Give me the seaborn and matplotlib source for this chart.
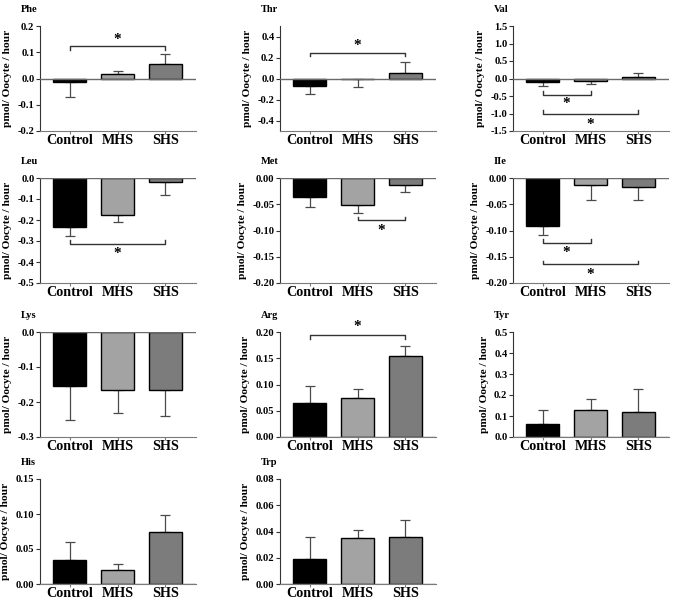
import matplotlib.pyplot as plt
import pandas as pd
import seaborn as sns

groups = ["Control", "MHS", "SHS"]
colors = ["#000000", "#a3a3a3", "#7c7c7c"]

names = ["Phe", "Thr", "Val", "Leu", "Met", "Ile", "Lys", "Arg", "Tyr", "His", "Trp"]

# mean uptake per group (Control, MHS, SHS) and SEM
means = {
    "Phe": [-0.015, 0.016, 0.055],
    "Thr": [-0.07, -0.005, 0.05],
    "Val": [-0.10, -0.085, 0.03],
    "Leu": [-0.235, -0.175, -0.018],
    "Met": [-0.037, -0.052, -0.013],
    "Ile": [-0.092, -0.013, -0.018],
    "Lys": [-0.155, -0.165, -0.165],
    "Arg": [0.065, 0.074, 0.155],
    "Tyr": [0.062, 0.127, 0.12],
    "His": [0.035, 0.02, 0.075],
    "Trp": [0.019, 0.035, 0.036],
}
sems = {
    "Phe": [0.055, 0.011, 0.04],
    "Thr": [0.075, 0.075, 0.11],
    "Val": [0.12, 0.085, 0.115],
    "Leu": [0.04, 0.035, 0.062],
    "Met": [0.018, 0.015, 0.014],
    "Ile": [0.016, 0.028, 0.023],
    "Lys": [0.095, 0.065, 0.075],
    "Arg": [0.032, 0.018, 0.019],
    "Tyr": [0.065, 0.053, 0.108],
    "His": [0.025, 0.009, 0.023],
    "Trp": [0.017, 0.006, 0.013],
}

# axis range, tick step, decimals
ylims = {
    "Phe": (-0.2, 0.2, 0.1, 1), "Thr": (-0.5, 0.5, 0.2, 1), "Val": (-1.5, 1.5, 0.5, 1),
    "Leu": (-0.5, 0.0, 0.1, 1), "Met": (-0.2, 0.0, 0.05, 2), "Ile": (-0.2, 0.0, 0.05, 2),
    "Lys": (-0.3, 0.0, 0.1, 1), "Arg": (0.0, 0.2, 0.05, 2), "Tyr": (0.0, 0.5, 0.1, 1),
    "His": (0.0, 0.15, 0.05, 2), "Trp": (0.0, 0.08, 0.02, 2),
}
ytick_sets = {
    "Thr": [-0.4, -0.2, 0.0, 0.2, 0.4],
}

# significance brackets: panel, group a, group b, bracket y, tip y, star y
sig_panel = ["Phe", "Thr", "Val", "Val", "Leu", "Met", "Ile", "Ile", "Arg"]
sig_a = [0, 0, 0, 0, 0, 1, 0, 0, 0]
sig_b = [2, 2, 1, 2, 2, 2, 1, 2, 2]
sig_y = [0.122, 0.245, -0.46, -1.01, -0.313, -0.080, -0.123, -0.164, 0.194]
sig_tip = [0.11, 0.21, -0.35, -0.90, -0.295, -0.074, -0.117, -0.158, 0.187]
sig_star = [0.15, 0.31, -0.72, -1.30, -0.36, -0.100, -0.141, -0.183, 0.211]

plt.rcParams["font.family"] = "Liberation Serif"
plt.rcParams["font.weight"] = "bold"

fig = plt.figure(figsize=(6.76, 6.03), dpi=100)
W, H = 676, 603
col_left = [40, 280, 513]
row_top = [26, 178, 332, 479]
pw, ph = 156, 105

for k, name in enumerate(names):
    r, c = divmod(k, 3)
    l, t = col_left[c], row_top[r]
    ax = fig.add_axes([l / W, 1 - (t + ph) / H, pw / W, ph / H])

    df = pd.DataFrame({"group": groups, "value": means[name]})
    sns.barplot(data=df, x="group", y="value", hue="group", palette=colors,
                edgecolor="black", linewidth=1.0, width=0.68, errorbar=None,
                legend=False, ax=ax, zorder=2)

    lo = [s if m < 0 else 0 for m, s in zip(means[name], sems[name])]
    hi = [s if m >= 0 else 0 for m, s in zip(means[name], sems[name])]
    ax.errorbar(range(3), means[name], yerr=[lo, hi], fmt="none",
                ecolor="#4a4a4a", elinewidth=0.9, capsize=3.5, capthick=0.9, zorder=1)

    y0, y1, step, dec = ylims[name]
    ax.set_ylim(y0, y1)
    ax.set_xlim(-0.62, 2.64)
    ticks = ytick_sets.get(name)
    if ticks is None:
        n = int(round((y1 - y0) / step))
        ticks = [y0 + i * step for i in range(n + 1)]
    ax.set_yticks(ticks)
    ax.set_yticklabels([f"{abs(v):.{dec}f}" if abs(v) < 1e-9 else f"{v:.{dec}f}"
                        for v in ticks], fontsize=7.6, fontweight="bold")
    ax.set_xticks(range(3))
    ax.set_xticklabels(groups, fontsize=10.2, fontweight="bold")
    ax.set_xlabel("")
    ax.set_ylabel("pmol/ Oocyte / hour", fontsize=8.2, fontweight="bold", labelpad=4)

    ax.axhline(0, color="#6a6a6a", lw=1.0, zorder=3)
    sns.despine(ax=ax)
    ax.spines["left"].set_color("#333333")
    ax.spines["bottom"].set_color("#7a7a7a")
    ax.tick_params(axis="y", length=3, width=0.8, pad=1, colors="#333333", labelcolor="black")
    ax.tick_params(axis="x", length=2.5, width=0.8, pad=0, colors="#7a7a7a", labelcolor="black")

    title = "IIe" if name == "Ile" else name
    ax.annotate(title, xy=(0, 1), xycoords="axes fraction", xytext=(-14, 12),
                textcoords="offset points", fontsize=7.5, fontweight="bold", ha="left", va="center")

    for p, a, b, y, tip, star in zip(sig_panel, sig_a, sig_b, sig_y, sig_tip, sig_star):
        if p != name:
            continue
        ax.plot([a, a, b, b], [tip, y, y, tip], color="#333333", lw=1.0, clip_on=False, zorder=4)
        ax.text((a + b) / 2, star, "*", ha="center", va="center", fontsize=11,
                fontweight="bold", clip_on=False)

fig.savefig("out.png", dpi=100)
